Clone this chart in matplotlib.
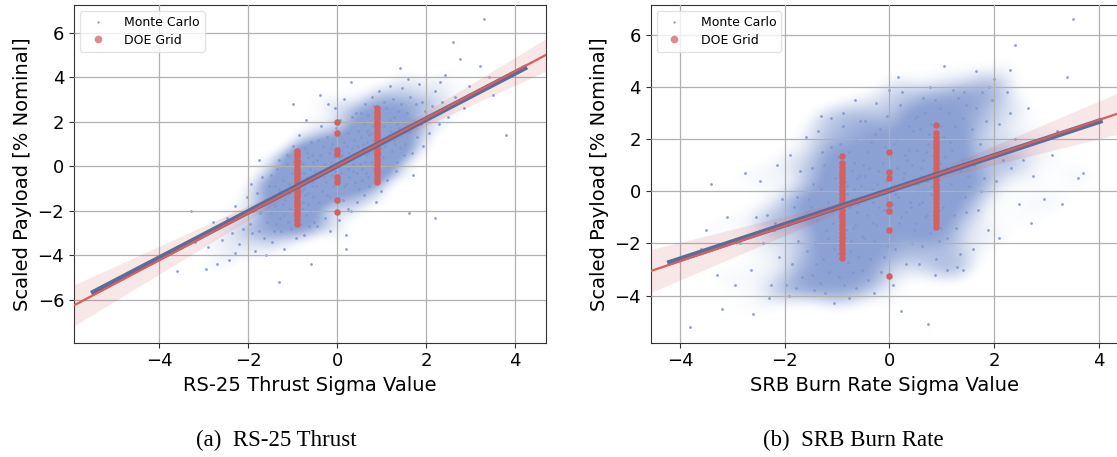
"""Scaled payload vs. sigma value for RS-25 thrust and SRB burn rate."""
import matplotlib

matplotlib.use("Agg")
import matplotlib.pyplot as plt
from matplotlib.colors import to_rgb
from matplotlib.lines import Line2D
import numpy as np

MC_A = [
    (-0.48, -0.9), (-0.45, 0.3), (-0.42, -1.6), (-0.40, 0.5), (-0.38, -0.2), (-0.35, -1.1),
    (-0.33, 0.9), (-0.31, -0.5), (-0.29, 0.1), (-0.27, -2.3), (-0.25, -0.7), (-0.23, 1.3),
    (-0.21, -0.1), (-0.19, 0.6), (-0.17, -1.4), (-0.15, 0.2), (-0.13, -0.4), (-0.11, 1.0),
    (-0.09, -0.9), (-0.07, 0.4), (-0.05, -0.2), (-0.03, 1.7), (-0.01, -1.2), (0.01, 0.0),
    (0.03, 0.7), (0.05, -0.6), (0.07, 2.1), (0.09, -0.3), (0.11, 0.5), (0.13, -1.5),
    (0.15, 1.1), (0.17, 0.2), (0.19, -0.8), (0.21, 0.9), (0.23, -0.1), (0.25, 1.5),
    (0.27, -0.5), (0.29, 0.3), (0.31, -2.0), (0.33, 0.8), (0.35, 0.1), (0.37, 1.2),
    (0.39, -0.7), (0.41, 0.5), (0.43, 2.4), (0.45, -0.3), (0.47, 0.9), (0.49, -1.0),
    (-0.46, -2.7), (-0.36, 1.8), (-0.26, 0.0), (-0.16, -2.9), (-0.06, 2.6), (0.04, -2.4),
    (0.14, 3.0), (0.24, -1.9), (0.34, 2.2), (0.44, -1.6), (-0.44, 1.2), (-0.34, -0.3),
    (-0.24, -1.3), (-0.14, 0.8), (-0.04, -0.6), (0.06, 0.4), (0.16, -0.9), (0.26, 0.6),
    (0.36, -0.2), (0.46, 1.6), (-0.20, 2.8), (0.20, -3.1),
    (0.52, 0.1), (0.54, 1.3), (0.56, -0.6), (0.58, 0.8), (0.60, 1.9), (0.62, 0.2),
    (0.64, -0.3), (0.66, 1.1), (0.68, 0.6), (0.70, 2.3), (0.72, -0.9), (0.74, 0.9),
    (0.76, 1.5), (0.78, 0.0), (0.80, 1.2), (0.82, 2.7), (0.84, 0.4), (0.86, -0.4),
    (0.88, 1.7), (0.90, 0.9), (0.92, 0.3), (0.94, 2.0), (0.96, 1.1), (0.98, -1.1),
    (0.53, 2.4), (0.59, -1.3), (0.65, 0.5), (0.71, 1.4), (0.77, 3.1), (0.83, -0.1),
    (0.89, 1.3), (0.95, 0.6), (0.57, 1.0), (0.63, 2.8), (0.69, -0.5), (0.75, 0.2),
    (0.81, 1.8), (0.87, -1.6), (0.93, 3.4), (0.99, 0.8), (0.55, -0.1), (0.67, 1.6),
    (0.79, 0.7), (0.91, 2.2), (0.97, -0.2),
    (-0.51, -0.2), (-0.54, -1.4), (-0.57, 0.5), (-0.58, -0.7), (-0.61, -2.0), (-0.62, -0.1),
    (-0.65, 0.4), (-0.66, -1.2), (-0.69, -0.5), (-0.70, -2.2), (-0.73, 0.8), (-0.74, -1.0),
    (-0.77, -1.6), (-0.78, 0.1), (-0.81, -1.1), (-0.82, -2.6), (-0.85, -0.3), (-0.86, 0.5),
    (-0.89, -1.8), (-0.91, -0.8), (-0.92, -0.4), (-0.95, -2.1), (-0.96, -1.2), (-0.99, 0.9),
    (-0.53, -2.5), (-0.60, 1.1), (-0.64, -0.6), (-0.72, -1.3), (-0.76, -3.1), (-0.84, 0.2),
    (-0.88, -1.4), (-0.94, -0.5), (-0.56, -0.9), (-0.63, -2.7), (-0.68, 0.6), (-0.75, -0.3),
    (-0.80, -1.9), (-0.87, 1.4), (-0.93, -3.2), (-0.98, -0.9), (-0.55, 0.2), (-0.67, -1.7),
    (-0.79, -0.6), (-0.90, -2.3), (-0.97, 0.2),
    (1.02, 0.4), (1.05, 1.8), (1.08, 0.9), (1.10, 2.6), (1.13, 0.0), (1.16, 1.4),
    (1.19, 2.1), (1.22, 0.7), (1.25, 3.0), (1.28, 1.2), (1.31, -0.2), (1.34, 1.9),
    (1.37, 2.5), (1.40, 0.8), (1.43, 1.5), (1.46, 3.5), (1.49, 0.5), (1.04, 2.9),
    (1.12, -0.6), (1.20, 1.6), (1.27, 2.2), (1.35, 0.2), (1.42, 2.8), (1.07, 1.1),
    (1.18, 3.6), (1.30, 1.0), (1.39, 1.7), (1.47, 2.0),
    (-1.03, -0.3), (-1.06, -1.9), (-1.09, -0.8), (-1.11, -2.5), (-1.14, 0.1), (-1.17, -1.5),
    (-1.20, -2.2), (-1.23, -0.6), (-1.26, -2.9), (-1.29, -1.1), (-1.32, 0.3), (-1.35, -2.0),
    (-1.38, -2.6), (-1.41, -0.9), (-1.44, -1.4), (-1.47, -3.4), (-1.50, -0.4), (-1.05, -2.8),
    (-1.13, 0.5), (-1.21, -1.7), (-1.28, -2.3), (-1.36, -0.1), (-1.43, -2.9), (-1.08, -1.2),
    (-1.19, -3.7), (-1.31, -1.0), (-1.40, -1.8), (-1.48, -2.1),
    (1.52, 1.0), (1.56, 2.4), (1.60, 1.6), (1.64, 3.1), (1.68, 0.6), (1.72, 2.0),
    (1.76, 2.8), (1.80, 1.3), (1.84, 3.7), (1.88, 1.9), (1.92, 0.9), (1.96, 2.5),
    (1.58, 3.9), (1.90, 2.9), (1.70, -0.4),
    (-1.53, -0.9), (-1.57, -2.5), (-1.61, -1.5), (-1.65, -3.2), (-1.69, -0.5), (-1.73, -2.1),
    (-1.77, -2.9), (-1.81, -1.2), (-1.85, -3.8), (-1.89, -2.0), (-1.93, -0.8), (-1.97, -2.6),
    (-1.60, -4.0), (-1.91, -3.0), (-1.75, 0.3),
    (2.05, 1.5), (2.12, 2.7), (2.20, 3.4), (2.28, 1.9), (2.35, 2.9), (2.42, 4.1),
    (2.48, 2.2), (2.20, -2.3), (2.30, 3.8),
    (-2.04, -1.4), (-2.13, -2.8), (-2.21, -3.5), (-2.29, -1.8), (-2.36, -3.0), (-2.43, -4.2),
    (-2.49, -2.3), (-2.30, -3.9),
    (2.60, 5.6), (2.65, 3.1), (2.75, 4.8), (2.85, 2.6), (2.95, 3.6),
    (-2.60, -3.3), (-2.70, -4.4), (-2.80, -2.5), (-2.90, -3.6), (-2.95, -4.6),
    (3.30, 6.6), (3.20, 4.5), (3.50, 3.2), (3.80, 1.4), (3.40, 4.0), (-3.30, -2.0),
    (-3.60, -4.7), (-3.20, -3.4), (-1.30, -5.2), (-0.60, -4.4), (0.20, -3.7), (-1.00, 2.8),
    (-0.70, 2.1), (1.60, -2.1), (0.30, 3.8), (-0.40, 3.2), (1.40, 4.4),
]

# Monte Carlo samples, panel (b)
MC_B = [
    (-0.49, -1.8), (-0.46, 0.6), (-0.43, -0.9), (-0.40, 1.5), (-0.37, -2.6), (-0.34, 0.1),
    (-0.31, -0.4), (-0.28, 2.2), (-0.25, -1.3), (-0.22, 0.8), (-0.19, -0.1), (-0.16, -3.1),
    (-0.13, 1.1), (-0.10, -0.7), (-0.07, 0.4), (-0.04, 2.9), (-0.01, -1.6), (0.02, 0.2),
    (0.05, -0.5), (0.08, 1.8), (0.11, -2.2), (0.14, 0.9), (0.17, -0.2), (0.20, 3.3),
    (0.23, -1.0), (0.26, 0.5), (0.29, 1.4), (0.32, -2.8), (0.35, 0.0), (0.38, 2.5),
    (0.41, -0.6), (0.44, 1.0), (0.47, -1.5), (0.50, 0.3),
    (-0.47, 2.7), (-0.41, -3.4), (-0.35, 1.9), (-0.29, -1.9), (-0.23, 0.3), (-0.17, 2.4),
    (-0.11, -2.5), (-0.05, -0.3), (0.01, 1.3), (0.07, -3.6), (0.13, 2.0), (0.19, -1.2),
    (0.25, 3.8), (0.31, -0.8), (0.37, 1.6), (0.43, -2.0), (0.49, 2.8),
    (-0.44, -0.2), (-0.38, 0.9), (-0.32, -1.2), (-0.26, 3.4), (-0.20, -0.6), (-0.14, 0.0),
    (-0.08, 1.7), (-0.02, -2.1), (0.04, 0.6), (0.10, -0.1), (0.16, 4.4), (0.22, -4.6),
    (0.28, 0.7), (0.34, 1.2), (0.40, -0.4), (0.46, 2.3), (-0.30, -3.9), (0.00, 3.9),
    (0.51, -1.2), (0.53, 1.6), (0.55, 0.3), (0.57, -0.5), (0.59, 2.4), (0.61, 0.9),
    (0.63, -2.1), (0.65, 1.2), (0.67, 0.0), (0.69, 3.0), (0.71, -0.9), (0.73, 1.8),
    (0.75, 0.5), (0.77, -1.6), (0.79, 2.6), (0.81, 0.2), (0.83, 1.4), (0.85, -0.3),
    (0.87, 3.5), (0.89, -2.6), (0.91, 0.8), (0.93, 2.0), (0.95, -0.7), (0.97, 1.1),
    (0.99, -1.4), (0.52, 2.9), (0.56, -2.8), (0.60, 0.6), (0.64, 3.6), (0.68, -1.0),
    (0.72, 0.4), (0.76, 2.2), (0.80, -0.1), (0.84, 1.7), (0.88, -3.2), (0.92, 0.1),
    (0.96, 3.2), (0.54, 0.0), (0.62, -0.4), (0.70, 1.5), (0.78, 4.0), (0.86, 0.7),
    (0.94, -1.9), (0.98, 2.5), (0.74, -5.1),
    (-0.51, 1.0), (-0.53, -1.7), (-0.55, -0.2), (-0.57, 0.6), (-0.59, -2.5), (-0.61, -0.8),
    (-0.63, 2.0), (-0.65, -1.3), (-0.67, 0.1), (-0.69, -3.1), (-0.71, 0.8), (-0.73, -1.9),
    (-0.75, -0.6), (-0.77, 1.5), (-0.79, -2.7), (-0.81, -0.1), (-0.83, -1.5), (-0.85, 0.4),
    (-0.87, -3.6), (-0.89, 2.5), (-0.91, -0.9), (-0.93, -2.1), (-0.95, 0.6), (-0.97, -1.0),
    (-0.99, 1.3), (-0.52, -3.0), (-0.56, 2.7), (-0.60, -0.5), (-0.64, -3.7), (-0.68, 1.1),
    (-0.72, -0.3), (-0.76, -2.3), (-0.80, 0.2), (-0.84, -1.8), (-0.88, 3.0), (-0.92, -0.2),
    (-0.96, -3.3), (-0.54, 0.2), (-0.62, 0.5), (-0.70, -1.4), (-0.78, -4.1), (-0.86, -0.7),
    (-0.94, 1.8), (-0.98, -2.4), (-0.66, 3.5),
    (1.02, -0.6), (1.05, 2.1), (1.08, 0.9), (1.11, -1.8), (1.14, 3.0), (1.17, 0.3),
    (1.20, 1.6), (1.23, -0.9), (1.26, 2.5), (1.29, 0.0), (1.32, 3.6), (1.35, -2.4),
    (1.38, 1.2), (1.41, 2.0), (1.44, -0.2), (1.47, 3.3), (1.50, 0.6), (1.04, 4.8),
    (1.10, -3.0), (1.16, 1.9), (1.22, 3.9), (1.28, -1.4), (1.34, 0.8), (1.40, 2.8),
    (1.46, -0.8), (1.06, 1.3), (1.30, -2.9), (1.43, 3.8),
    (-1.03, 0.5), (-1.06, -2.2), (-1.09, -0.8), (-1.12, 1.7), (-1.15, -3.1), (-1.18, -0.4),
    (-1.21, -1.5), (-1.24, 1.0), (-1.27, -2.6), (-1.30, 0.1), (-1.33, -3.5), (-1.36, 2.3),
    (-1.39, -1.1), (-1.42, -2.0), (-1.45, 0.3), (-1.48, -3.2), (-1.50, -0.6), (-1.05, -4.3),
    (-1.11, 2.8), (-1.17, -1.8), (-1.23, -3.9), (-1.29, 1.5), (-1.35, -0.7), (-1.41, -2.8),
    (-1.47, 0.9), (-1.07, -1.2), (-1.31, 2.9), (-1.44, -3.8),
    (1.53, 0.2), (1.57, 2.4), (1.61, 1.0), (1.65, 3.2), (1.69, -0.7), (1.73, 1.8),
    (1.77, 3.8), (1.81, 0.5), (1.85, 2.7), (1.89, -1.5), (1.93, 1.4), (1.97, 3.5),
    (1.60, -2.2), (1.90, 4.0), (1.75, 0.0),
    (-1.54, -0.3), (-1.58, -2.3), (-1.62, -1.0), (-1.66, -3.3), (-1.70, 0.8), (-1.74, -1.9),
    (-1.78, -3.7), (-1.82, -0.6), (-1.86, -2.8), (-1.90, 1.4), (-1.94, -1.3), (-1.98, -3.6),
    (-1.60, 2.1), (-1.92, -4.0), (-1.76, -0.2),
    (2.04, 0.4), (2.10, 2.6), (2.18, 1.2), (2.25, 3.8), (2.32, 0.9), (2.40, 2.0),
    (2.47, -0.5), (2.20, 1.6), (2.10, -1.8), (2.30, 3.0),
    (-2.05, -0.3), (-2.11, -2.5), (-2.19, -1.2), (-2.26, -3.6), (-2.33, -0.9), (-2.41, -2.0),
    (-2.48, 0.4), (-2.20, -1.5), (-2.30, -4.1), (-2.15, 1.0),
    (2.40, 5.6), (2.55, 1.2), (2.65, 3.2), (2.75, 0.6), (2.85, 2.0), (2.95, -0.3), (2.70, -1.2),
    (-2.55, -1.0), (-2.65, -3.0), (-2.75, 0.7), (-2.85, -2.0), (-2.95, -3.6), (-2.60, -4.7),
    (3.50, 6.6), (3.10, 1.4), (3.30, -0.5), (3.60, 0.5), (3.70, 0.7), (3.40, 4.4),
    (3.20, 2.3), (-3.10, -1.0), (-3.40, 0.3), (-3.20, -4.5), (-3.80, -5.2), (-3.50, -1.5),
    (-3.60, -2.2), (-3.30, -3.2), (2.00, 4.3), (1.40, -3.0), (2.30, 4.65), (1.65, 4.6),
]

# DOE grid runs: sigma level -> payload values
DOE_A = {
    -0.9: [-2.6, -2.4, -2.25, -2.1, -1.95, -1.8, -1.7, -1.55, -1.4, -1.3, -1.15, -1.0, -0.9,
           -0.75, -0.6, -0.5, -0.35, -0.2, -0.1, 0.05, 0.2, 0.3, 0.45, 0.55, 0.7],
    0.0: [2.0, 1.5, 0.75, 0.55, -0.5, -0.7, -1.5, -2.05],
    0.9: [-0.7, -0.55, -0.4, -0.25, -0.1, 0.05, 0.2, 0.35, 0.5, 0.6, 0.75, 0.9, 1.05, 1.2,
          1.3, 1.45, 1.6, 1.75, 1.9, 2.0, 2.15, 2.3, 2.45, 2.6],
}
DOE_B = {
    -0.9: [-2.55, -2.35, -2.2, -2.05, -1.9, -1.75, -1.6, -1.45, -1.3, -1.15, -1.0, -0.85, -0.7,
           -0.55, -0.4, -0.25, -0.1, 0.05, 0.2, 0.35, 0.5, 0.65, 0.8, 0.95, 1.1, 1.35],
    0.0: [1.5, 0.75, 0.5, -0.5, -0.75, -1.5, -3.25],
    0.9: [-1.35, -1.2, -1.05, -0.9, -0.75, -0.6, -0.45, -0.3, -0.15, 0.0, 0.15, 0.3, 0.45,
          0.6, 0.75, 0.9, 1.05, 1.2, 1.35, 1.5, 1.65, 1.8, 1.95, 2.1, 2.25, 2.55],
}

# linear fit of the Monte Carlo (slope, intercept, x range) and DOE regression (slope, intercept, ci)
FIT_A = (1.04, 0.04, (-5.53, 4.26))
FIT_B = (0.661, 0.04, (-4.24, 4.07))
REG_A = (1.06, 0.03, (0.08, 0.155))
REG_B = (0.677, 0.03, (0.08, 0.18))

XLABELS = ["RS-25 Thrust Sigma Value", "SRB Burn Rate Sigma Value"]
CAPTIONS = ["(a)  RS-25 Thrust", "(b)  SRB Burn Rate"]
YLABEL = "Scaled Payload [% Nominal]"

MC_COLOR = "#7f97cf"
DOE_COLOR = "#d65f5f"
FIT_COLOR = "#5b6c98"


def cloud_shade(ax, pts, xlim, ylim, bw):
    # smoothed density of the listed samples, so the dense core reads as solid
    gx = np.linspace(xlim[0], xlim[1], 320)
    gy = np.linspace(ylim[0], ylim[1], 300)
    X, Y = np.meshgrid(gx, gy)
    d = np.zeros_like(X)
    for px, py in pts:
        d += np.exp(-((X - px) ** 2 / (2 * bw[0] ** 2) + (Y - py) ** 2 / (2 * bw[1] ** 2)))
    d /= d.max()
    t = np.clip((d - 0.07) / 0.42, 0, 1)
    a = 0.9 * t * t * (3 - 2 * t)
    rgba = np.zeros(X.shape + (4,))
    rgba[..., :3] = to_rgb(MC_COLOR)
    rgba[..., 3] = a
    ax.imshow(rgba, extent=(*xlim, *ylim), origin="lower", aspect="auto",
              interpolation="bilinear", zorder=0.5)


def panel(ax, mc, doe, fit, reg, xlim, ylim, yticks, xlabel, bw):
    pts = np.array(mc)
    cloud_shade(ax, pts, xlim, ylim, bw)
    ax.scatter(pts[:, 0], pts[:, 1], s=4, color=MC_COLOR, alpha=0.9, lw=0, zorder=1)
    for xv, ys in doe.items():
        ax.scatter([xv] * len(ys), ys, s=22, color=DOE_COLOR, lw=0, zorder=4)

    slope, icpt, (x0, x1) = fit
    xs = np.array([x0, x1])
    ax.plot(xs, slope * xs + icpt, color=FIT_COLOR, lw=4.0, solid_capstyle="butt", zorder=5)

    rs, ri, (c0, k) = reg
    xx = np.linspace(xlim[0], xlim[1], 100)
    yy = rs * xx + ri
    hw = np.sqrt(c0 ** 2 + (k * xx) ** 2)
    ax.fill_between(xx, yy - hw, yy + hw, color=DOE_COLOR, alpha=0.15, lw=0, zorder=3)
    ax.plot(xx, yy, color=DOE_COLOR, lw=1.6, zorder=6)

    ax.set_xlim(*xlim)
    ax.set_ylim(*ylim)
    ax.set_xticks([-4, -2, 0, 2, 4])
    ax.set_yticks(yticks)
    ax.grid(True, color="#b0b0b0", lw=0.9, zorder=2)
    ax.set_axisbelow(False)
    ax.tick_params(labelsize=13, color="#333333")
    for sp in ax.spines.values():
        sp.set_color("#333333")
    ax.set_xlabel(xlabel, fontsize=14)
    ax.set_ylabel(YLABEL, fontsize=14)

    handles = [
        Line2D([], [], ls="", marker="o", ms=1.6, color=MC_COLOR, mew=0),
        Line2D([], [], ls="", marker="o", ms=5.5, color="#e08a85", mew=0),
    ]
    ax.legend(handles, ["Monte Carlo", "DOE Grid"], loc="upper left", fontsize=9,
              framealpha=0.8, edgecolor="#dddddd", handletextpad=1.1, labelspacing=0.35,
              borderaxespad=0.5)


def main():
    fig = plt.figure(figsize=(11.17, 4.57), dpi=100)
    ax_a = fig.add_axes([0.0662, 0.2505, 0.4226, 0.7385])
    ax_b = fig.add_axes([0.5825, 0.2505, 0.4185, 0.7385])

    panel(ax_a, MC_A, DOE_A, FIT_A, REG_A, (-5.92, 4.69), (-7.91, 7.24),
          [-6, -4, -2, 0, 2, 4, 6], XLABELS[0], (0.3, 0.4))
    panel(ax_b, MC_B, DOE_B, FIT_B, REG_B, (-4.56, 4.37), (-5.80, 7.15),
          [-4, -2, 0, 2, 4, 6], XLABELS[1], (0.32, 0.48))

    for xc, cap in zip([0.2475, 0.764], CAPTIONS):
        fig.text(xc, 0.037, cap, ha="center", va="center", fontsize=16.5, family="Liberation Serif")

    fig.savefig("out.png", dpi=100)
    plt.close(fig)


if __name__ == "__main__":
    main()
